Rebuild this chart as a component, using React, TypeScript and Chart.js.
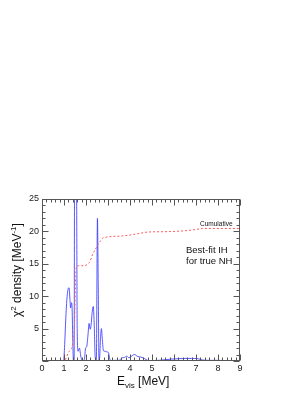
import React, { useEffect, useRef } from 'react';
import { Chart, registerables } from 'chart.js';

Chart.register(...registerables);

// χ² density (blue)
const densityX = [0, 0.98, 1.03, 1.08, 1.13, 1.18, 1.23, 1.27, 1.3, 1.34, 1.37, 1.4, 1.43, 1.46, 1.48, 1.52, 1.57, 1.6, 1.64, 1.7, 1.77, 1.85, 1.93, 1.98, 2.03, 2.09, 2.14, 2.19, 2.23, 2.28, 2.33, 2.37, 2.42, 2.47, 2.52, 2.555, 2.59, 2.62, 2.66, 2.7, 2.74, 2.78, 2.83, 2.88, 2.95, 3.02, 3.08, 3.15, 3.3, 3.5, 3.65, 3.75, 3.85, 3.95, 4.05, 4.2, 4.35, 4.5, 4.65, 4.8, 5.0, 5.3, 5.6, 5.9, 6.2, 6.5, 6.8, 7.1, 7.3, 7.6, 8.0, 8.5, 9.0];
const densityY = [0, 0, 2.5, 6.5, 9.5, 11, 11.3, 9.5, 8.2, 9.0, 8.0, 3, 0, 0, 27, 30, 27, 5, 1.5, 2.0, 0.6, 0, 0.3, 2.0, 2.2, 4, 5.8, 4.9, 5.5, 7.5, 8.4, 6, 0.5, 0, 22, 12, 0, 0.5, 3.5, 5, 3.5, 1.8, 1.5, 1.5, 1.4, 1.3, 0.3, 0.05, 0.1, 0.1, 0.5, 0.55, 0.75, 0.5, 0.7, 1.0, 0.7, 0.6, 0.4, 0.1, 0.05, 0.1, 0.2, 0.3, 0.35, 0.4, 0.4, 0.35, 0.15, 0.1, 0.1, 0.05, 0.05];

// Cumulative (red dashed)
const cumX = [0, 1.0, 1.2, 1.42, 1.48, 1.53, 1.57, 1.7, 1.94, 2.05, 2.17, 2.32, 2.47, 2.55, 2.65, 2.77, 2.9, 3.08, 3.67, 4.29, 4.82, 5.5, 6.0, 6.5, 7.0, 7.3, 8.0, 9.0];
const cumY = [0, 0, 1.3, 3.2, 6, 13, 14.6, 14.7, 14.7, 14.9, 15.3, 16.6, 17.5, 18.0, 18.5, 19.0, 19.1, 19.2, 19.3, 19.6, 19.9, 19.95, 20.0, 20.1, 20.3, 20.45, 20.45, 20.45];

const xTickValues = [0, 1, 2, 3, 4, 5, 6, 7, 8, 9];
const yTickValues = [5, 10, 15, 20, 25];

const FONT = '"Liberation Sans", Arial, Helvetica, sans-serif';

const decor = {
  id: 'decor',
  afterDraw(chart: any) {
    const { ctx, chartArea: a, scales } = chart;
    const xs = scales.x;
    const ys = scales.y;
    ctx.save();
    ctx.strokeStyle = '#555';
    ctx.lineWidth = 1;
    const L = Math.round(a.left) + 0.5;
    const R = Math.round(a.right) - 0.5;
    const T = Math.round(a.top) + 0.5;
    const B = Math.round(a.bottom) - 0.5;
    ctx.strokeRect(L, T, R - L, B - T);
    ctx.beginPath();
    for (let i = 0; i <= 45; i++) {
      const px = Math.round(xs.getPixelForValue(i * 0.2)) + 0.5;
      const len = i % 5 === 0 ? 6 : 3;
      ctx.moveTo(px, B);
      ctx.lineTo(px, B - len);
      ctx.moveTo(px, T);
      ctx.lineTo(px, T + len);
    }
    for (let i = 0; i <= 25; i++) {
      const py = Math.round(ys.getPixelForValue(i)) + 0.5;
      const len = i % 5 === 0 ? 6 : 3;
      ctx.moveTo(L, py);
      ctx.lineTo(L + len, py);
      ctx.moveTo(R, py);
      ctx.lineTo(R - len, py);
    }
    ctx.stroke();

    ctx.fillStyle = '#111';
    ctx.textBaseline = 'alphabetic';
    ctx.textAlign = 'left';
    // x title: E_vis [MeV]
    let x = 117;
    const yb = 385;
    ctx.font = `12px ${FONT}`;
    ctx.fillText('E', x, yb);
    x += ctx.measureText('E').width;
    ctx.font = `8px ${FONT}`;
    ctx.fillText('vis', x, yb + 3);
    x += ctx.measureText('vis').width;
    ctx.font = `12px ${FONT}`;
    ctx.fillText(' [MeV]', x, yb);

    // y title: χ² density [MeV⁻¹]
    ctx.save();
    ctx.translate(21, 317);
    ctx.rotate(-Math.PI / 2);
    let t = 0;
    ctx.font = `12px ${FONT}`;
    ctx.fillText('χ', t, 0);
    t += ctx.measureText('χ').width;
    ctx.font = `8px ${FONT}`;
    ctx.fillText('2', t, -5);
    t += ctx.measureText('2').width;
    ctx.font = `12px ${FONT}`;
    ctx.fillText(' density [MeV', t, 0);
    t += ctx.measureText(' density [MeV').width;
    ctx.font = `8px ${FONT}`;
    ctx.fillText('-1', t, -5);
    t += ctx.measureText('-1').width;
    ctx.font = `12px ${FONT}`;
    ctx.fillText(']', t, 0);
    ctx.restore();

    // annotations
    ctx.font = `6.5px ${FONT}`;
    ctx.fillText('Cumulative', 200, 226);
    ctx.font = `9.5px ${FONT}`;
    ctx.fillText('Best-fit IH', 186, 253);
    ctx.fillText('for true NH', 186, 263.5);
    ctx.restore();
  },
};

export default function App() {
  const ref = useRef<HTMLCanvasElement | null>(null);

  useEffect(() => {
    if (!ref.current) return;
    const chart = new Chart(ref.current, {
      type: 'scatter',
      data: {
        datasets: [
          {
            label: 'χ² density',
            data: densityX.map((x, i) => ({ x, y: densityY[i] })),
            showLine: true,
            borderColor: 'rgba(60,60,255,0.85)',
            borderWidth: 1,
            pointRadius: 0,
            cubicInterpolationMode: 'monotone',
            order: 2,
          },
          {
            label: 'Cumulative',
            data: cumX.map((x, i) => ({ x, y: cumY[i] })),
            showLine: true,
            borderColor: '#ff5a5a',
            borderWidth: 1,
            borderDash: [2, 2],
            pointRadius: 0,
            cubicInterpolationMode: 'monotone',
            order: 1,
          },
        ],
      },
      options: {
        responsive: false,
        animation: false,
        events: [],
        layout: { padding: { top: 199, right: 66, left: 0, bottom: 0 } },
        plugins: { legend: { display: false }, tooltip: { enabled: false } },
        scales: {
          x: {
            type: 'linear',
            min: 0,
            max: 9,
            afterBuildTicks: (s: any) => {
              s.ticks = xTickValues.map((v) => ({ value: v }));
            },
            ticks: { color: '#222', font: { size: 9, family: FONT }, padding: 2, maxRotation: 0 },
            grid: { display: false, drawTicks: false },
            border: { display: false },
            afterFit: (s: any) => {
              s.height = 35;
            },
          },
          y: {
            type: 'linear',
            min: 0,
            max: 25,
            afterBuildTicks: (s: any) => {
              s.ticks = yTickValues.map((v) => ({ value: v }));
            },
            ticks: { color: '#222', font: { size: 9, family: FONT }, padding: 3 },
            grid: { display: false, drawTicks: false },
            border: { display: false },
            afterFit: (s: any) => {
              s.width = 42;
            },
          },
        },
      },
      plugins: [decor],
    });
    return () => chart.destroy();
  }, []);

  return (
    <div style={{ position: 'absolute', left: 0, top: 0, width: 306, height: 396, background: '#fff' }}>
      <canvas ref={ref} width={306} height={396} style={{ display: 'block' }} />
    </div>
  );
}
